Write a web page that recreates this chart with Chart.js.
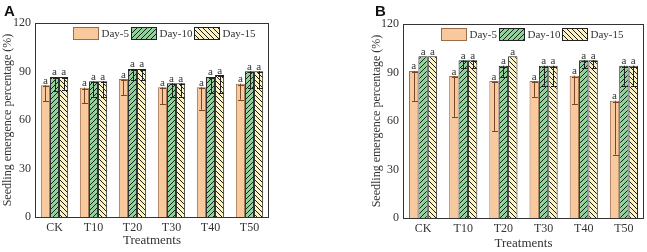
<!DOCTYPE html>
<html>
<head>
<meta charset="utf-8">
<script src="https://cdn.jsdelivr.net/npm/chart.js@4.4.1/dist/chart.umd.min.js"></script>
<style>
  html, body { margin: 0; padding: 0; background: #fff; }
  #wrap { position: relative; width: 647px; height: 252px; overflow: hidden; }
  .panel { position: absolute; top: 0; height: 252px; }
  .plabel { position: absolute; font-family: "Liberation Sans", Arial, sans-serif; font-weight: bold; font-size: 15px; color: #111; line-height: 1; }
</style>
</head>
<body>
<div id="wrap">
  <div class="panel" style="left:0;width:323px;"><canvas id="cA" width="323" height="252"></canvas></div>
  <div class="panel" style="left:323px;width:324px;"><canvas id="cB" width="324" height="252"></canvas></div>
  <div class="plabel" style="left:4px;top:3px;">A</div>
  <div class="plabel" style="left:375px;top:3px;">B</div>
</div>
<script>
// ---- data ----
const categories = ['CK', 'T10', 'T20', 'T30', 'T40', 'T50'];
const seriesNames = ['Day-5', 'Day-10', 'Day-15'];
const yTicks = [0, 30, 60, 90, 120];
const sigLetters = ['a', 'a', 'a', 'a', 'a', 'a'];

// Panel A
const aDay5  = [81.5, 80.0, 85.3, 80.2, 80.2, 82.5];
const aDay10 = [86.6, 83.9, 91.6, 82.7, 86.6, 90.2];
const aDay15 = [86.6, 83.9, 91.6, 82.7, 87.8, 90.2];
const aErr5  = [10.0, 9.5, 10.0, 10.3, 13.8, 9.9];
const aErr10 = [8.9, 9.9, 6.8, 8.5, 9.9, 10.5];
const aErr15 = [8.3, 9.9, 6.8, 8.5, 11.1, 10.5];

// Panel B
const bDay5  = [91.0, 87.8, 84.7, 84.7, 88.0, 72.6];
const bDay10 = [100.0, 97.6, 94.2, 94.2, 97.6, 94.2];
const bDay15 = [100.0, 97.6, 100.0, 94.2, 97.6, 94.2];
const bErr5  = [18.5, 25.2, 31.0, 9.8, 17.4, 33.4];
const bErr10 = [0, 4.9, 7.0, 12.4, 4.9, 12.4];
const bErr15 = [0, 4.9, 0, 12.4, 4.9, 12.4];

// ---- styles ----
const FONT = '"Liberation Serif", "Times New Roman", serif';
const TXT = '#333333';
const fill5 = '#F8C99C';
const fill10 = '#90D29B';
const fill15 = '#FBF3C3';

function hatch(bg, dir) {
  const s = 5;
  const c = document.createElement('canvas');
  c.width = s; c.height = s;
  const x = c.getContext('2d');
  x.fillStyle = bg; x.fillRect(0, 0, s, s);
  x.strokeStyle = '#1c1c1c'; x.lineWidth = 1;
  x.beginPath();
  if (dir === '/') {
    x.moveTo(-1, s + 1); x.lineTo(s + 1, -1);
    x.moveTo(-1, 1); x.lineTo(1, -1);
    x.moveTo(s - 1, s + 1); x.lineTo(s + 1, s - 1);
  } else {
    x.moveTo(-1, -1); x.lineTo(s + 1, s + 1);
    x.moveTo(s - 1, -1); x.lineTo(s + 1, 1);
    x.moveTo(-1, s - 1); x.lineTo(1, s + 1);
  }
  x.stroke();
  return x.createPattern(c, 'repeat');
}
const pat10 = hatch(fill10, '/');
const pat15 = hatch(fill15, '\\');

const seriesStyle = [
  { bg: fill5, border: '#9C6B4A', err: '#7A4526' },
  { bg: pat10, border: '#222222', err: '#222222' },
  { bg: pat15, border: '#222222', err: '#222222' }
];

const extrasPlugin = {
  id: 'extras',
  afterDatasetsDraw(chart) {
    const ctx = chart.ctx;
    const ys = chart.scales.y;
    const errs = chart.options.plugins.extras.errors;
    ctx.save();
    // error bars (minus direction)
    chart.data.datasets.forEach((ds, i) => {
      const meta = chart.getDatasetMeta(i);
      meta.data.forEach((bar, j) => {
        const e = errs[i][j];
        if (!e) return;
        const x = Math.round(bar.x) + 0.5;
        const y0 = ys.getPixelForValue(ds.data[j]);
        const y1 = ys.getPixelForValue(ds.data[j] - e);
        ctx.strokeStyle = seriesStyle[i].err;
        ctx.lineWidth = 1;
        ctx.beginPath();
        ctx.moveTo(x, y0); ctx.lineTo(x, y1);
        ctx.moveTo(x - 2.5, Math.round(y1) + 0.5); ctx.lineTo(x + 3.5, Math.round(y1) + 0.5);
        ctx.moveTo(x - 2.5, Math.round(y0) + 1.5); ctx.lineTo(x + 3.5, Math.round(y0) + 1.5);
        ctx.stroke();
      });
    });
    // significance letters
    ctx.fillStyle = TXT;
    ctx.font = '11px ' + FONT;
    ctx.textAlign = 'center';
    ctx.textBaseline = 'alphabetic';
    chart.data.datasets.forEach((ds, i) => {
      const meta = chart.getDatasetMeta(i);
      meta.data.forEach((bar, j) => {
        ctx.fillText(sigLetters[j], bar.x, bar.y - 1.5);
      });
    });
    // legend inside plot
    const ca = chart.chartArea;
    ctx.font = '11px ' + FONT;
    ctx.textAlign = 'left';
    ctx.textBaseline = 'middle';
    let cx = ca.left + 38;
    seriesNames.forEach((name, i) => {
      const bx = Math.round(cx) + 0.5;
      const by = Math.round(ca.top + 4) + 0.5;
      ctx.fillStyle = seriesStyle[i].bg;
      ctx.fillRect(bx, by, 25, 12);
      ctx.strokeStyle = seriesStyle[i].border;
      ctx.lineWidth = 1;
      ctx.strokeRect(bx, by, 25, 12);
      ctx.fillStyle = TXT;
      ctx.fillText(name, bx + 28, by + 6.5);
      cx = bx + 28 + ctx.measureText(name).width + 2;
    });
    // frame
    ctx.strokeStyle = '#333333';
    ctx.lineWidth = 1;
    ctx.strokeRect(Math.round(ca.left) + 0.5, Math.round(ca.top) + 0.5,
                   Math.round(ca.right - ca.left) - 1, Math.round(ca.bottom - ca.top));
    ctx.restore();
  }
};

function makeChart(id, d5, d10, d15, e5, e10, e15, cfg) {
  const vals = [d5, d10, d15];
  return new Chart(document.getElementById(id), {
    type: 'bar',
    data: {
      labels: categories,
      datasets: seriesNames.map((n, i) => ({
        label: n,
        data: vals[i],
        backgroundColor: seriesStyle[i].bg,
        borderColor: seriesStyle[i].border,
        borderWidth: 1,
        borderSkipped: 'bottom',
        categoryPercentage: 0.7,
        barPercentage: 1.0
      }))
    },
    options: {
      responsive: false,
      animation: false,
      layout: { padding: cfg.padding },
      plugins: {
        legend: { display: false },
        tooltip: { enabled: false },
        extras: { errors: [e5, e10, e15] }
      },
      scales: {
        x: {
          grid: { display: false, drawTicks: false, tickLength: 0 },
          border: { display: false },
          ticks: { color: TXT, font: { family: FONT, size: 12 }, padding: 4 },
          title: { display: true, text: 'Treatments', color: TXT,
                   font: { family: FONT, size: 13 }, padding: { top: 0, bottom: cfg.xTitlePad } },
          afterFit(s) { s.height = cfg.xHeight; }
        },
        y: {
          min: 0, max: 120,
          grid: { display: false, drawTicks: false, tickLength: 0 },
          border: { display: false },
          afterBuildTicks(s) { s.ticks = yTicks.map(v => ({ value: v })); },
          ticks: { color: TXT, font: { family: FONT, size: 12 }, padding: 4 },
          title: { display: true, text: 'Seedling emergence percentage (%)', color: TXT,
                   font: { family: FONT, size: 12 }, padding: { top: 1, bottom: 1 } },
          afterFit(s) { s.width = cfg.yWidth; }
        }
      }
    },
    plugins: [extrasPlugin]
  });
}

makeChart('cA', aDay5, aDay10, aDay15, aErr5, aErr10, aErr15,
  { padding: { left: 0, right: 54, top: 23, bottom: 0 }, xHeight: 35, yWidth: 35, xTitlePad: 4 });
makeChart('cB', bDay5, bDay10, bDay15, bErr5, bErr10, bErr15,
  { padding: { left: 46, right: 3, top: 24, bottom: 0 }, xHeight: 34, yWidth: 34, xTitlePad: 1 });
</script>
</body>
</html>
